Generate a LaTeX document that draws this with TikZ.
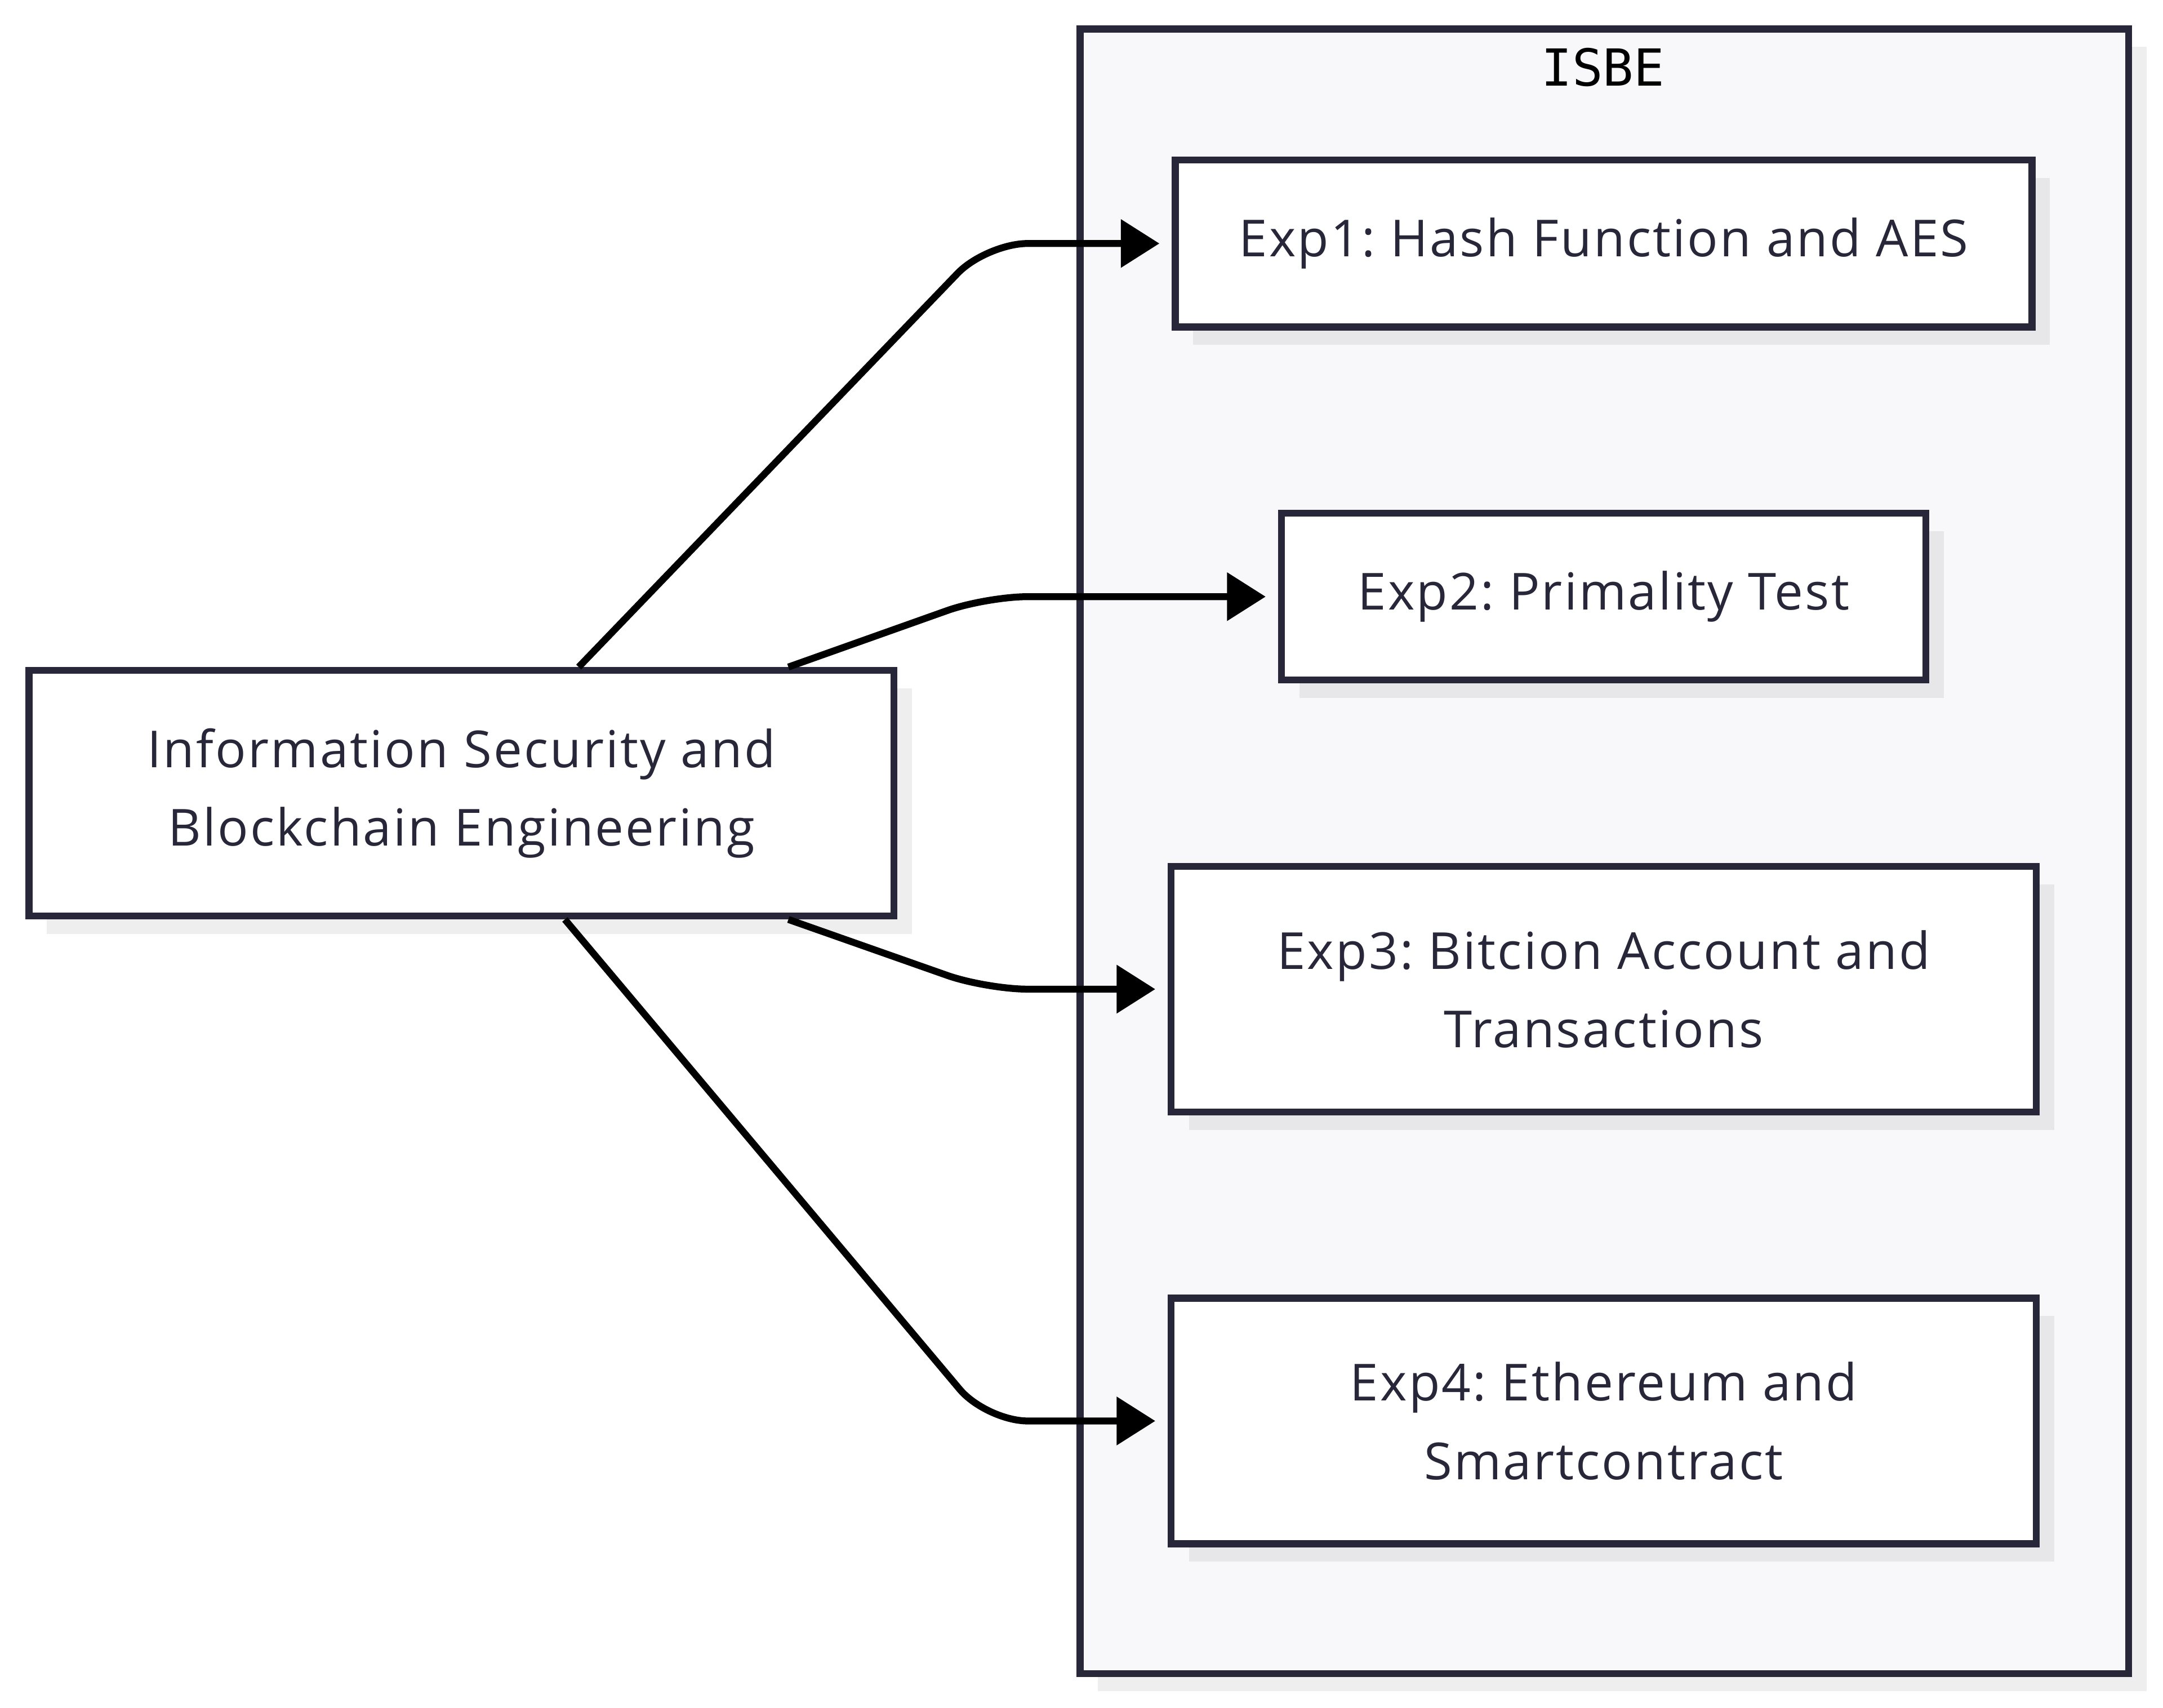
\documentclass[tikz,border=0pt]{standalone}
\usepackage{fontspec}
\setmainfont{Open Sans}[LetterSpace=3.5]
\newfontfamily\labelmono{DejaVu Sans Mono}
\usetikzlibrary{arrows.meta,shadows}
\definecolor{nodeline}{HTML}{272739}
\definecolor{txtc}{HTML}{272739}
\definecolor{clusterfill}{HTML}{F8F8FA}
\frenchspacing
\begin{document}
\begin{tikzpicture}[x=1pt,y=-1pt,
  shade box/.style={drop shadow={shadow xshift=13pt, shadow yshift=-13pt, opacity=0.065, fill=black}},
  box/.style={rectangle, draw=nodeline, line width=5pt, fill=white, text=txtc,
    font=\fontsize{37}{57}\selectfont, align=center, inner sep=0pt, shade box},
  cluster/.style={rectangle, draw=nodeline, line width=5pt, fill=clusterfill, inner sep=0pt, shade box},
  conn/.style={draw=black, line width=5pt, rounded corners=30pt, shorten >=9pt,
    -{Triangle[length=28pt,width=34pt]}}]
\useasboundingbox[fill=white] (0,0) rectangle (1568,1238);

\node[cluster, minimum width=760pt, minimum height=1192pt] (isbe) at (1163,617) {};
\node[text=black, font=\labelmono\fontsize{37}{44}\selectfont, inner sep=0pt] (isbelabel) at (1162,49) {ISBE};

\node[box, minimum width=627pt, minimum height=178pt] (main) at (334.5,575)
  {Information Security and\\Blockchain Engineering};
\node[box, minimum width=621pt, minimum height=121pt] (e1) at (1162.5,176.5) {Exp1: Hash Function and AES};
\node[box, minimum width=467pt, minimum height=121pt] (e2) at (1162.5,432.5) {Exp2: Primality Test};
\node[box, minimum width=627pt, minimum height=178pt] (e3) at (1162.5,717) {Exp3: Bitcion Account and\\Transactions};
\node[box, minimum width=627pt, minimum height=178pt] (e4) at (1162.5,1030) {Exp4: Ethereum and\\Smartcontract};

\coordinate (kx) at (715,0);
\coordinate (s1) at ([xshift=85pt]main.north);
\coordinate (s2) at ([xshift=237pt]main.north);
\coordinate (s3) at ([xshift=237pt]main.south);
\coordinate (s4) at ([xshift=75pt]main.south);

\draw[conn] (s1) -- (kx |- e1.west) -- (e1.west);
\draw[conn] (s2) -- (kx |- e2.west) -- (e2.west);
\draw[conn] (s3) -- (kx |- e3.west) -- (e3.west);
\draw[conn] (s4) -- (kx |- e4.west) -- (e4.west);
\end{tikzpicture}
\end{document}
